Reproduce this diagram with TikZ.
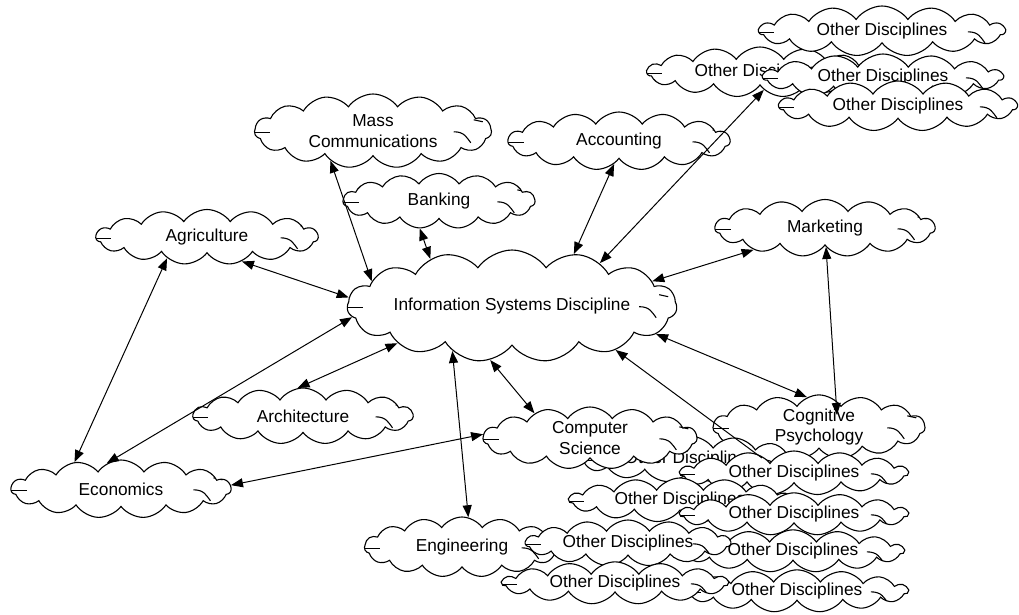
\documentclass[tikz,border=0pt]{standalone}
\usepackage{fontspec}
\setmainfont{Liberation Sans}
\usetikzlibrary{shapes.symbols,arrows.meta,calc}

\begin{document}
\begin{tikzpicture}[x=1pt,y=1pt,
  disc/.style={cloud, cloud puffs=15, cloud puff arc=110, cloud ignores aspect,
    draw=black, fill=white, line width=1.1pt, inner sep=0pt, align=center,
    font=\fontsize{17.3}{20.5}\selectfont,
    path picture={
      \draw [line width=1.1pt] ([yshift=-2pt]path picture bounding box.west) -- ++(16,0);
      \draw [line width=1.1pt] ([xshift=-38pt,yshift=-1pt]path picture bounding box.east)
        .. controls +(11,0) and +(-4,5) .. ++(17,-11);
      \draw [line width=1.1pt] ([xshift=-18pt,yshift=11pt]path picture bounding box.east) -- ++(9,-2);
    }},
  sz/.style 2 args={minimum width=#1, minimum height=#2},
  link/.style={{Triangle[length=12pt,width=9pt]}-{Triangle[length=12pt,width=9pt]}, line width=1pt},
  half/.style={-{Triangle[length=12pt,width=9pt]}, line width=1pt}]
\useasboundingbox (0,0) rectangle (1019,-615);
\node [disc, sz={318}{112}] (isd) at (512,-306) {Information Systems Discipline};
\node [disc, sz={237}{74}] (mass) at (373,-131) {Mass\\Communications};
\node [disc, sz={192}{55}] (bank) at (439,-201) {Banking};
\node [disc, sz={222}{58}] (acct) at (619,-141) {Accounting};
\node [disc, sz={222}{55}] (agri) at (207,-237) {Agriculture};
\node [disc, sz={220}{57}] (mkt) at (825,-228) {Marketing};
\node [disc, sz={220}{56}] (arch) at (303,-416) {Architecture};
\node [disc, sz={220}{58}] (econ) at (121,-489) {Economics};
\node [disc, sz={226}{50}] (od2) at (760,-72) {Other Disciplines};
\node [disc, sz={246}{50}] (od1) at (882,-31) {Other Disciplines};
\node [disc, sz={240}{46}] (od3) at (883,-77) {Other Disciplines};
\node [disc, sz={238}{50}] (od4) at (898,-106) {Other Disciplines};
\node [disc, sz={212}{60}] (cog) at (819,-427) {Cognitive\\Psychology};
\node [disc, sz={220}{46}] (oda) at (690,-459) {Other Disciplines};
\node [disc, sz={214}{62}] (cs) at (590,-438) {Computer\\Science};
\node [disc, sz={228}{44}] (odb) at (794,-473) {Other Disciplines};
\node [disc, sz={222}{44}] (odc) at (680,-500) {Other Disciplines};
\node [disc, sz={228}{40}] (odd) at (794,-514) {Other Disciplines};
\node [disc, sz={222}{42}] (ode) at (793,-551) {Other Disciplines};
\node [disc, sz={222}{42}] (odh) at (797,-591) {Other Disciplines};
\node [disc, sz={195}{60}] (eng) at (462,-547) {Engineering};
\node [disc, sz={205}{46}] (odf) at (628,-543) {Other Disciplines};
\node [disc, sz={226}{42}] (odg) at (615,-583) {Other Disciplines};
\coordinate (cogtip) at ($(cog)+(18,12)$);
\coordinate (odx) at (762,-458);
\draw [link] (isd.177) -- (agri.-35);
\draw [link] (isd.170) -- (mass.-145);
\draw [link] (isd.150) -- (bank.-125);
\draw [link] (isd.40) -- (acct.-102);
\draw [link] (isd.26) -- (od2.-78);
\draw [link] (isd.10) -- (mkt.-163);
\draw [link] (isd.-11) -- (cog.112);
\draw [link] (isd.-112) -- (cs.156);
\draw [link] (isd.-143) -- (eng.78);
\draw [link] (isd.-162) -- (arch.101);
\draw [link] (isd.-176) -- (econ.119);
\draw [link] (agri.-152) -- (econ.150);
\draw [link] (econ.2) -- (cs.178);
\draw [link] (mkt.-87) -- (cogtip);
\draw [half] (odx) -- (isd.-23);
\end{tikzpicture}
\end{document}
